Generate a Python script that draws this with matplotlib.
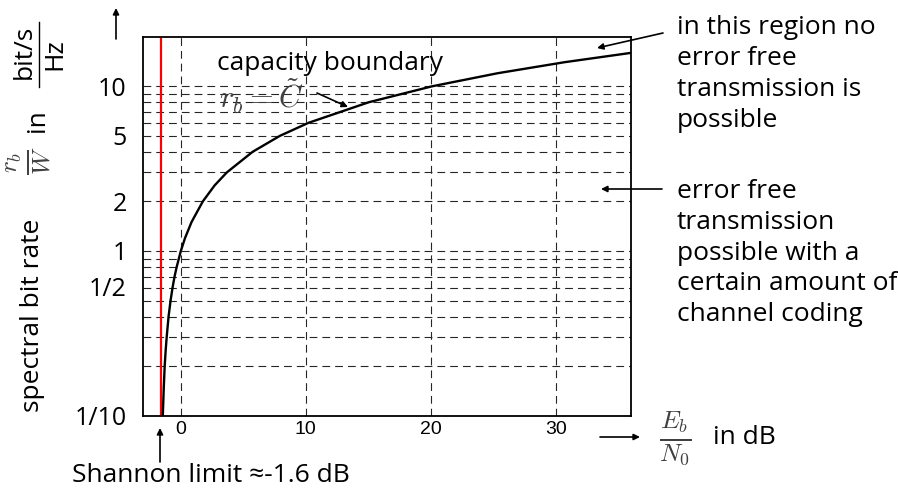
import matplotlib
matplotlib.use("Agg")
import matplotlib.pyplot as plt
import matplotlib.transforms as mtrans
from matplotlib.lines import Line2D
from matplotlib.ticker import NullLocator

# ── data ──
ebn0_db = [-1.44, -1.36, -1.29, -1.21, -1.13, -0.98, -0.82, -0.66, -0.50, -0.33,
           0.0, 0.34, 0.86, 1.76, 2.70, 3.68, 5.74, 7.92, 10.21, 15.03,
           20.10, 25.33, 30.68, 36.12]
rate = [0.1, 0.15, 0.2, 0.25, 0.3, 0.4, 0.5, 0.6, 0.7, 0.8,
        1.0, 1.2, 1.5, 2.0, 2.5, 3.0, 4.0, 5.0, 6.0, 8.0,
        10.0, 12.0, 14.0, 16.0]
shannon_limit_db = -1.6

x_ticks = [0, 10, 20, 30]
x_labels = ["0", "10", "20", "30"]
y_ticks = [0.1, 0.5, 1, 2, 5, 10]
y_labels = ["1/10", "1/2", "1", "2", "5", "10"]
grid_x = [0, 10, 20, 30]
grid_y = [0.2, 0.3, 0.4, 0.5, 0.6, 0.7, 0.8, 0.9, 1, 2, 3, 4, 5, 6, 7, 8, 9, 10]

W, H = 898, 492
SANS = ["Open Sans", "DejaVu Sans"]
FS = 19          # annotation text size
MATH_C = "0.25"
plt.rcParams["mathtext.fontset"] = "cm"


def fp(x, y):
    # pixel position -> figure fraction
    return (x / W, 1 - y / H)


fig = plt.figure(figsize=(W / 100, H / 100), dpi=100)
left, right, top, bottom = 143.3, 631.0, 36.7, 415.7
ax = fig.add_axes([left / W, 1 - bottom / H, (right - left) / W, (bottom - top) / H])
ax.set_yscale("log")
ax.set_xlim(-3, 36)
ax.set_ylim(0.1, 20)

dash = (0, (7, 4.5))
for g in grid_x:
    ax.axvline(g, color="0.15", lw=0.8, ls=dash, zorder=1)
for g in grid_y:
    ax.axhline(g, color="0.15", lw=0.8, ls=dash, zorder=1)

ax.axvline(shannon_limit_db, color="red", lw=1.6, zorder=2)
ax.plot(ebn0_db, rate, color="black", lw=1.7, zorder=3)

for s in ax.spines.values():
    s.set_linewidth(1.3)

ax.set_xticks(x_ticks, x_labels, fontfamily="Liberation Sans", fontsize=14)
ax.set_yticks(y_ticks, y_labels, fontfamily=SANS, fontsize=18)
ax.yaxis.set_minor_locator(NullLocator())
ax.tick_params(axis="x", length=0, pad=4)
ax.tick_params(axis="y", length=0, pad=12)
# the 1/2 label sits a bit higher in the original
lab = ax.get_yticklabels()[1]
lab.set_transform(lab.get_transform() + mtrans.ScaledTranslation(0, 14 / 100, fig.dpi_scale_trans))

arrow = dict(arrowstyle="-|>", color="black", lw=1.2, mutation_scale=9, shrinkA=0, shrinkB=0)

# annotations inside / right of the plot
fig.text(*fp(330, 63), "capacity boundary", ha="center", va="center",
         fontsize=FS, family=SANS)
fig.text(*fp(261, 96), r"$r_b = \tilde{C}$", ha="center", va="center",
         fontsize=22, color=MATH_C)
ax.annotate("", xy=fp(348, 107), xycoords="figure fraction",
            xytext=fp(317, 93), textcoords="figure fraction", arrowprops=arrow)

fig.text(*fp(677, 74), "in this region no\nerror free\ntransmission is\npossible",
         ha="left", va="center", fontsize=FS, family=SANS, linespacing=1.3)
ax.annotate("", xy=fp(597, 48), xycoords="figure fraction",
            xytext=fp(663, 33), textcoords="figure fraction", arrowprops=arrow)

fig.text(*fp(677, 253), "error free\ntransmission\npossible with a\ncertain amount of\nchannel coding",
         ha="left", va="center", fontsize=FS, family=SANS, linespacing=1.3)
ax.annotate("", xy=fp(601, 189), xycoords="figure fraction",
            xytext=fp(662, 189), textcoords="figure fraction", arrowprops=arrow)

# x axis label
ax.annotate("", xy=fp(640, 437), xycoords="figure fraction",
            xytext=fp(600, 437), textcoords="figure fraction", arrowprops=arrow)
fig.text(*fp(675, 439), r"$\frac{E_b}{N_0}$", ha="center", va="center",
         fontsize=26, color=MATH_C)
fig.text(*fp(713, 437), "in dB", ha="left", va="center", fontsize=FS, family=SANS)

# Shannon limit
ax.annotate("", xy=fp(160, 428), xycoords="figure fraction",
            xytext=fp(160, 462), textcoords="figure fraction", arrowprops=arrow)
fig.text(*fp(72, 476), "Shannon limit \u2248-1.6 dB", ha="left", va="center",
         fontsize=FS, family=SANS)

# y axis label, rotated
fig.text(*fp(33, 315), "spectral bit rate", rotation=90, ha="center", va="center",
         fontsize=FS, family=SANS)
fig.text(*fp(29, 161), r"$\frac{r_b}{W}$", rotation=90, ha="center", va="center",
         fontsize=26, color=MATH_C)
fig.text(*fp(37, 121), "in", rotation=90, ha="center", va="center",
         fontsize=FS, family=SANS)
fig.text(*fp(24, 52), "bit/s", rotation=90, ha="center", va="center",
         fontsize=FS, family=SANS)
fig.text(*fp(55, 54), "Hz", rotation=90, ha="center", va="center",
         fontsize=FS, family=SANS)
fig.add_artist(Line2D([39 / W, 39 / W], [1 - 22 / H, 1 - 87 / H], color="black", lw=1.0))
ax.annotate("", xy=fp(116, 8), xycoords="figure fraction",
            xytext=fp(116, 39), textcoords="figure fraction", arrowprops=arrow)

fig.savefig("out.png", dpi=100)
